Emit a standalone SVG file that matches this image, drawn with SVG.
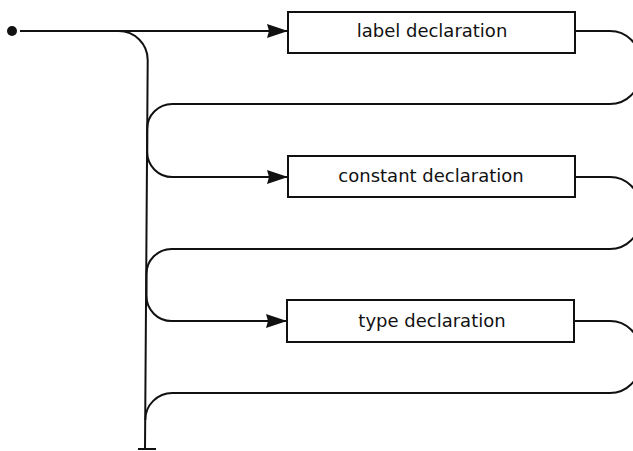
<svg xmlns="http://www.w3.org/2000/svg" width="633" height="451" viewBox="0 0 633 451">
  <style>
    .box { fill: #ffffff; stroke: #111111; stroke-width: 2; }
    .wire { fill: none; stroke: #111111; stroke-width: 2; }
    .label { font-family: "DejaVu Sans", "Liberation Sans", sans-serif; font-size: 18px; fill: #111111; text-anchor: middle; }
  </style>
  <defs>
    <marker id="arrow" markerUnits="userSpaceOnUse" markerWidth="24" markerHeight="16" refX="21" refY="7" orient="auto">
      <path d="M0,0 L21,7 L0,14 L2,7 Z" fill="#111111"/>
    </marker>
  </defs>
  <rect width="633" height="451" fill="#ffffff"/>

  <g id="connectors">
    <!-- start dot and main entry line -->
    <circle cx="12" cy="31" r="5" fill="#111111"/>
    <path class="wire" d="M20,31 H288" marker-end="url(#arrow)"/>
    <!-- bypass trunk running down the left -->
    <path class="wire" d="M118.7,31 A29,29 0 0 1 147.7,60 L145,449"/>
    <path class="wire" d="M138,449 H156"/>
    <!-- loop after label declaration -->
    <path class="wire" d="M575,31 H610 A30,30 0 0 1 640,61 V74 A30,30 0 0 1 610,104 H172.2 A25,25 0 0 0 147.2,129 V152 A25,25 0 0 0 172.2,177 H288" marker-end="url(#arrow)"/>
    <!-- loop after constant declaration -->
    <path class="wire" d="M575,177 H610 A30,30 0 0 1 640,207 V219 A30,30 0 0 1 610,249 H171.5 A25,25 0 0 0 146.5,274 V296 A25,25 0 0 0 171.5,321 H287" marker-end="url(#arrow)"/>
    <!-- loop after type declaration, merging into the trunk -->
    <path class="wire" d="M574,321 H610 A30,30 0 0 1 640,351 V363 A30,30 0 0 1 610,393 H172.3 A27,27 0 0 0 145.3,420"/>
  </g>

  <g id="label-declaration">
    <rect class="box" x="288" y="12" width="287" height="41"/>
    <text class="label" x="432" y="36.5">label declaration</text>
  </g>
  <g id="constant-declaration">
    <rect class="box" x="288" y="156" width="287" height="41"/>
    <text class="label" x="431" y="181.5">constant declaration</text>
  </g>
  <g id="type-declaration">
    <rect class="box" x="287" y="300" width="287" height="42"/>
    <text class="label" x="432" y="326.5">type declaration</text>
  </g>
</svg>
